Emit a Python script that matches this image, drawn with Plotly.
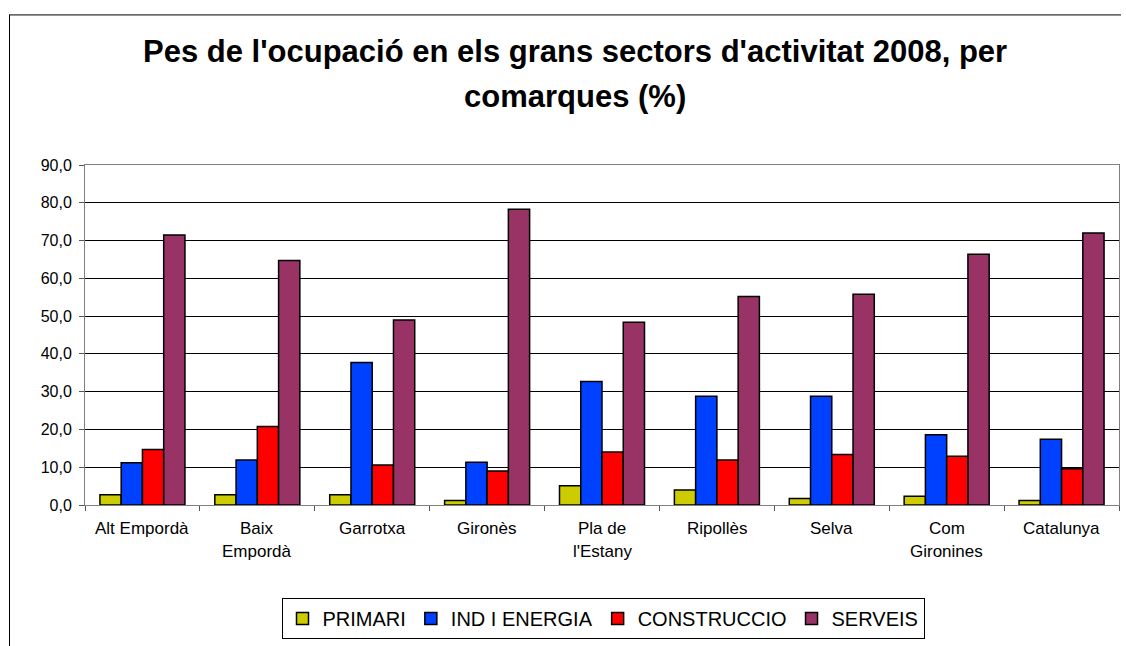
import plotly.graph_objects as go

# Comarques (two-line labels split on "|")
comarques = ["Alt Empordà", "Baix|Empordà", "Garrotxa", "Gironès", "Pla de|l'Estany",
             "Ripollès", "Selva", "Com|Gironines", "Catalunya"]

sectors = ["PRIMARI", "IND I ENERGIA", "CONSTRUCCIO", "SERVEIS"]

primari = [2.7, 2.7, 2.7, 1.2, 5.1, 4.0, 1.7, 2.3, 1.2]
ind_energia = [11.2, 11.9, 37.7, 11.3, 32.7, 28.8, 28.8, 18.6, 17.4]
construccio = [14.7, 20.8, 10.6, 9.0, 14.0, 11.9, 13.4, 12.9, 9.6]
serveis = [71.5, 64.7, 49.0, 78.3, 48.4, 55.2, 55.8, 66.4, 72.0]

y_ticks = [0, 10, 20, 30, 40, 50, 60, 70, 80, 90]

colors = ["#CCCC00", "#0040FF", "#FF0000", "#993366"]
series = [primari, ind_energia, construccio, serveis]

FONT = "Liberation Sans, Arial, sans-serif"

fig = go.Figure()
for name, vals, col in zip(sectors, series, colors):
    fig.add_trace(go.Bar(
        x=comarques, y=vals, name=name,
        marker=dict(color=col, line=dict(color="black", width=1.5)),
    ))

W, H = 1126, 646
L, R, T, B = 85, 7, 165, 135.5
pw, ph = W - L - R, H - T - B


def px_x(px):
    return (px - L) / pw


def px_y(py):
    return (H - B - py) / ph


annotations = [
    dict(text="Pes de l'ocupació en els grans sectors d'activitat 2008, per",
         x=px_x(575), y=px_y(50), xref="paper", yref="paper", showarrow=False,
         font=dict(family=FONT, size=31, color="black", weight="bold"),
         xanchor="center", yanchor="middle"),
    dict(text="comarques (%)",
         x=px_x(575), y=px_y(95), xref="paper", yref="paper", showarrow=False,
         font=dict(family=FONT, size=31, color="black", weight="bold"),
         xanchor="center", yanchor="middle"),
]

# category labels, one annotation per text line
for c in comarques:
    for i, line in enumerate(c.split("|")):
        annotations.append(dict(
            text=line, x=c, xref="x", y=px_y(534 + 24 * i), yref="paper",
            showarrow=False, xanchor="center", yanchor="middle",
            font=dict(family=FONT, size=17, color="black"),
        ))

shapes = [
    # outer chart frame (left and top edges)
    dict(type="line", xref="paper", yref="paper",
         x0=px_x(9.5), x1=px_x(9.5), y0=px_y(12), y1=px_y(660),
         line=dict(color="black", width=1)),
    dict(type="line", xref="paper", yref="paper",
         x0=px_x(9.5), x1=px_x(1121), y0=px_y(12.5), y1=px_y(12.5),
         line=dict(color="black", width=1)),
]

fig.update_layout(
    width=W, height=H,
    margin=dict(l=L, r=R, t=T, b=B, pad=0),
    paper_bgcolor="white", plot_bgcolor="white",
    separators=",.",
    barmode="group", bargap=0.26, bargroupgap=0,
    font=dict(family=FONT, color="black"),
    showlegend=True,
    legend=dict(
        orientation="h", x=px_x(603), xanchor="center", y=px_y(605), yanchor="top",
        bgcolor="white", bordercolor="black", borderwidth=1,
        font=dict(family=FONT, size=20, color="black"),
        itemwidth=30, tracegroupgap=0,
    ),
    annotations=annotations,
    shapes=shapes,
    xaxis=dict(
        type="category", showticklabels=False, ticks="outside", tickson="boundaries",
        ticklen=5, tickcolor="#555", showline=True, linecolor="#808080", linewidth=1,
        mirror=True, showgrid=False, zeroline=False,
    ),
    yaxis=dict(
        range=[0, 90], tickvals=y_ticks, tickformat=".1f", ticks="outside",
        ticklen=5, tickcolor="#555", showline=True, linecolor="#808080", linewidth=1,
        mirror=True, showgrid=True, gridcolor="black", gridwidth=1, zeroline=False,
        tickfont=dict(family=FONT, size=16, color="black"), ticklabelstandoff=4,
    ),
)

fig.write_html("out.html")
